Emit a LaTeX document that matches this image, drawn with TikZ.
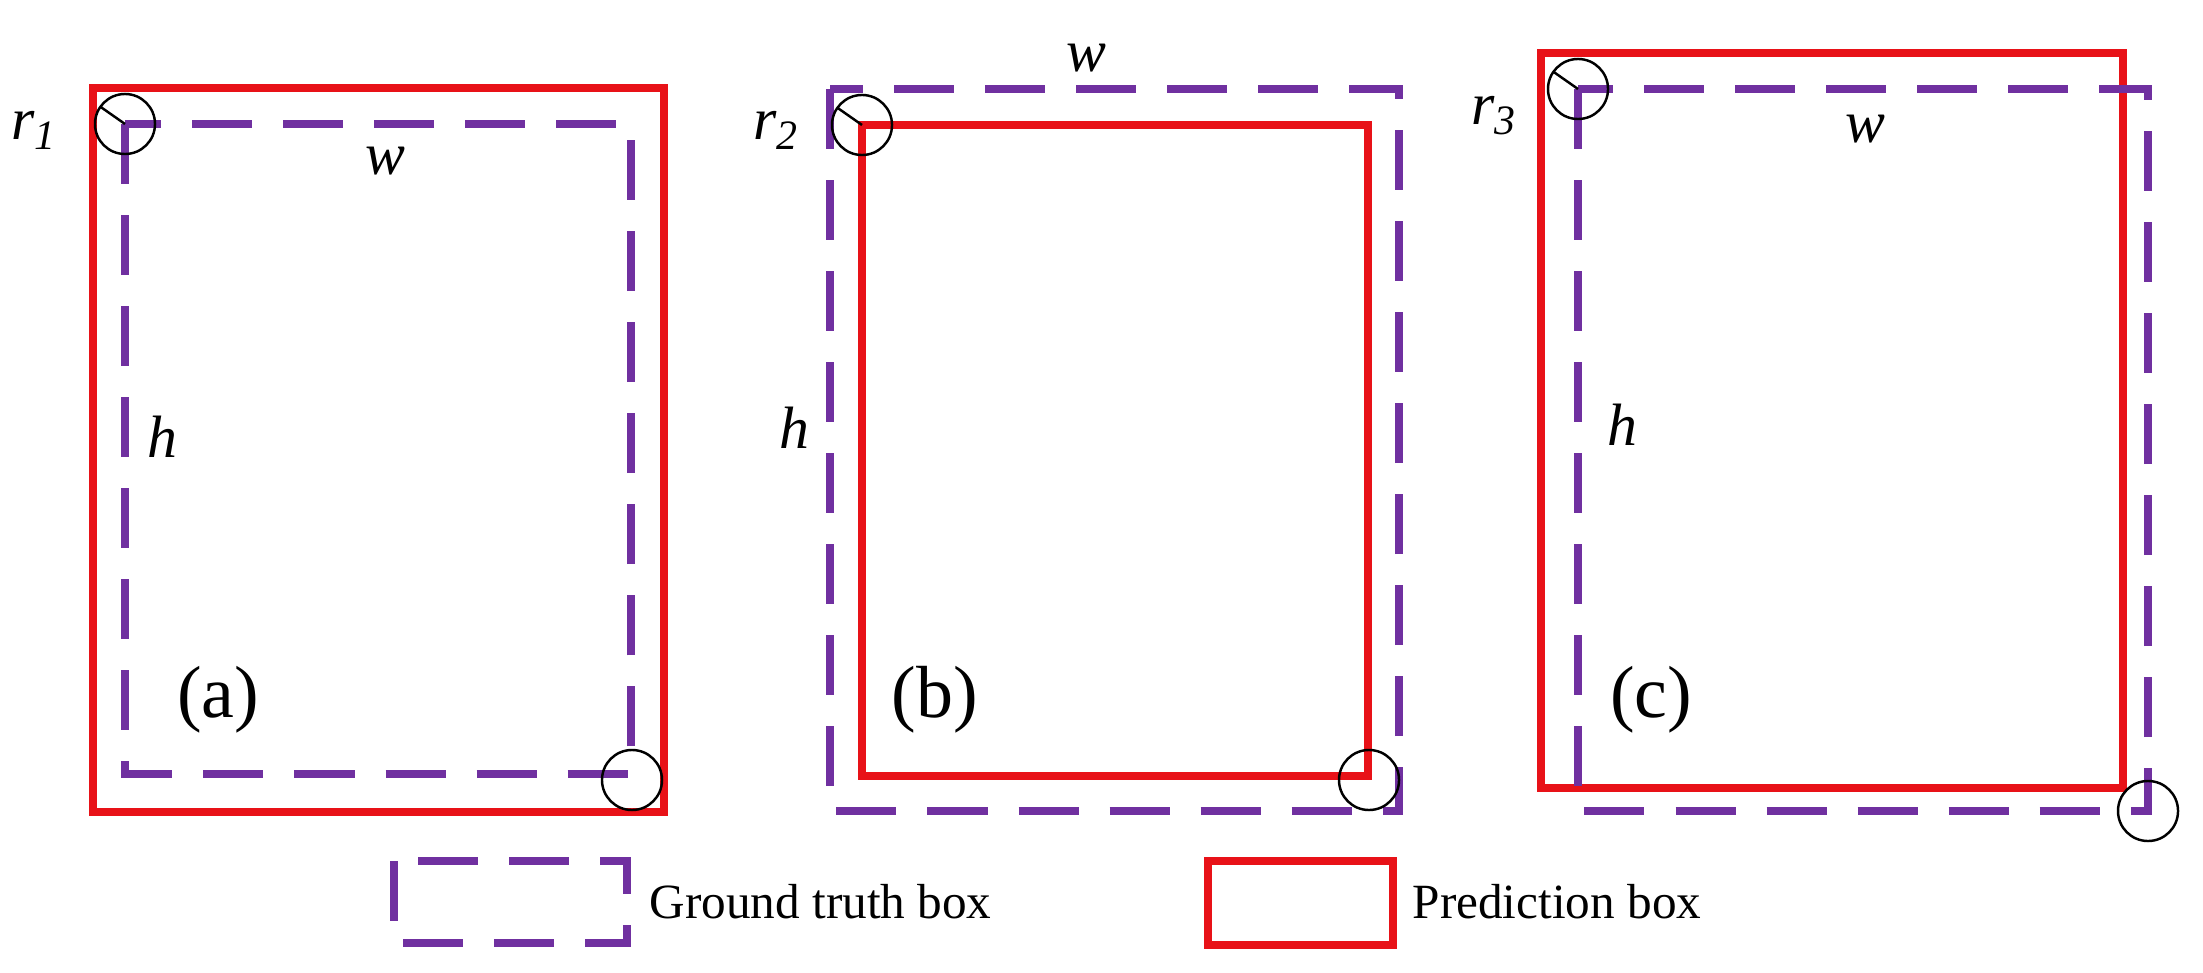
\documentclass[tikz,border=0pt]{standalone}
\usepackage{fontspec}
\setmainfont{Liberation Serif}
\usetikzlibrary{positioning}
\definecolor{gtpurple}{RGB}{112,48,160}
\definecolor{predred}{RGB}{232,18,24}
\tikzset{
  gtbox/.style={draw=gtpurple, line width=2.1pt, dash pattern=on 0.6cm off 0.31cm},
  predbox/.style={draw=predred, line width=2.1pt},
  cornermark/.style={draw=black, line width=0.7pt},
  varlabel/.style={font=\fontsize{17}{20}\selectfont\itshape, inner sep=0pt},
  panellabel/.style={font=\fontsize{21}{24}\selectfont, inner sep=0pt},
  legendtext/.style={font=\fontsize{14}{16}\selectfont, anchor=west, inner sep=0pt}
}
\begin{document}
\begin{tikzpicture}[x=0.01cm,y=-0.01cm]
\useasboundingbox (0,0) rectangle (2203,973);

\draw[predbox] (93,88) rectangle (664,812);
\draw[gtbox] (125,124) rectangle (631,774);
\coordinate (ta) at (125,124);
\coordinate (ba) at (632,780);
\draw[cornermark] (ta) circle [radius=0.3cm];
\draw[cornermark] (ta) -- ++(145:0.3cm);
\draw[cornermark] (ba) circle [radius=0.3cm];
\node[varlabel, anchor=base east] (ra) at (58,140) {r\textsubscript{1}};
\node[varlabel, anchor=base] (wa) at (385,175) {w};
\node[varlabel, anchor=base] (ha) at (162,457) {h};
\node[panellabel] (pa) at (218,700) {(a)};

\draw[predbox] (862,125) rectangle (1368,776);
\draw[gtbox] (830,89) rectangle (1399,811);
\coordinate (tb) at (862,125);
\coordinate (bb) at (1369,780);
\draw[cornermark] (tb) circle [radius=0.3cm];
\draw[cornermark] (tb) -- ++(145:0.3cm);
\draw[cornermark] (bb) circle [radius=0.3cm];
\node[varlabel, anchor=base east] (rb) at (800,140) {r\textsubscript{2}};
\node[varlabel, anchor=base] (wb) at (1086,72) {w};
\node[varlabel, anchor=base] (hb) at (794,448) {h};
\node[panellabel] (pb) at (935,700) {(b)};

\draw[predbox] (1541,53) rectangle (2123,788);
\draw[gtbox] (1578,89) rectangle (2148,811);
\coordinate (tc) at (1578,89);
\coordinate (bc) at (2148,811);
\draw[cornermark] (tc) circle [radius=0.3cm];
\draw[cornermark] (tc) -- ++(145:0.3cm);
\draw[cornermark] (bc) circle [radius=0.3cm];
\node[varlabel, anchor=base east] (rc) at (1518,125) {r\textsubscript{3}};
\node[varlabel, anchor=base] (wc) at (1865,143) {w};
\node[varlabel, anchor=base] (hc) at (1622,445) {h};
\node[panellabel] (pc) at (1651,700) {(c)};

\draw[gtbox] (394,861) rectangle (627,943);
\node[legendtext] (gtlegend) at (649,902) {Ground truth box};
\draw[predbox] (1208,861) rectangle (1393,945);
\node[legendtext] (predlegend) at (1412,902) {Prediction box};
\end{tikzpicture}
\end{document}
